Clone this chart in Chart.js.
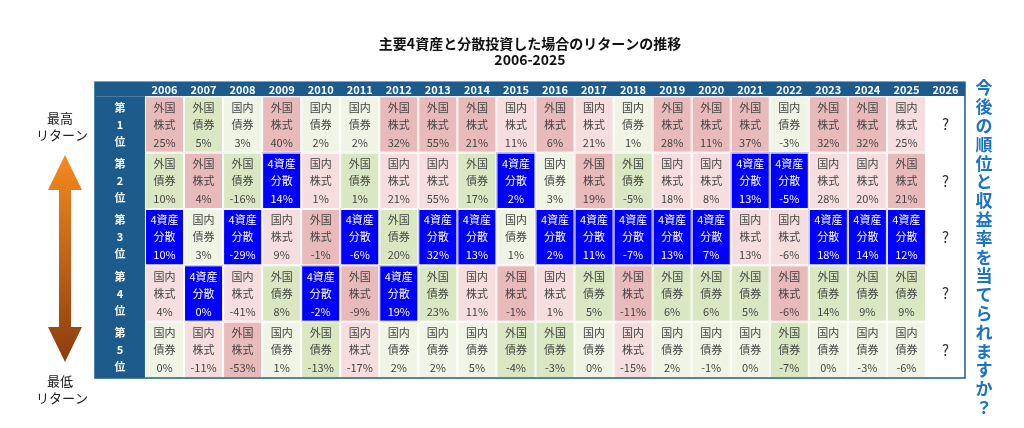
<!DOCTYPE html>
<html><head><meta charset="utf-8">
<script src="https://cdn.jsdelivr.net/npm/chart.js@4"></script>
<style>html,body{margin:0;background:#fff}#c{width:1024px;height:428px}</style>
</head><body><div id="c"><canvas id="chart"></canvas></div>
<script>
const years = ['2006','2007','2008','2009','2010','2011','2012','2013','2014','2015','2016','2017','2018','2019','2020','2021','2022','2023','2024','2025','2026'];
const ranks = ['1','2','3','4','5'];
// asset per rank, 2006-2025
const rank1Assets = ['外国株式','外国債券','国内債券','外国株式','国内債券','国内債券','外国株式','外国株式','外国株式','国内株式','外国株式','国内株式','国内債券','外国株式','外国株式','外国株式','国内債券','外国株式','外国株式','国内株式'];
const rank1Returns = [25,5,3,40,2,2,32,55,21,11,6,21,1,28,11,37,-3,32,32,25];
const rank2Assets = ['外国債券','外国株式','外国債券','4資産分散','国内株式','外国債券','国内株式','国内株式','外国債券','4資産分散','国内債券','外国株式','外国債券','国内株式','国内株式','4資産分散','4資産分散','国内株式','国内株式','外国株式'];
const rank2Returns = [10,4,-16,14,1,1,21,55,17,2,3,19,-5,18,8,13,-5,28,20,21];
const rank3Assets = ['4資産分散','国内債券','4資産分散','国内株式','外国株式','4資産分散','外国債券','4資産分散','4資産分散','国内債券','4資産分散','4資産分散','4資産分散','4資産分散','4資産分散','国内株式','国内株式','4資産分散','4資産分散','4資産分散'];
const rank3Returns = [10,3,-29,9,-1,-6,20,32,13,1,2,11,-7,13,7,13,-6,18,14,12];
const rank4Assets = ['国内株式','4資産分散','国内株式','外国債券','4資産分散','外国株式','4資産分散','外国債券','国内株式','外国株式','国内株式','外国債券','外国株式','外国債券','外国債券','外国債券','外国株式','外国債券','外国債券','外国債券'];
const rank4Returns = [4,0,-41,8,-2,-9,19,23,11,-1,1,5,-11,6,6,5,-6,14,9,9];
const rank5Assets = ['国内債券','国内株式','外国株式','国内債券','外国債券','国内株式','国内債券','国内債券','国内債券','外国債券','外国債券','国内債券','国内株式','国内債券','国内債券','国内債券','外国債券','国内債券','国内債券','国内債券'];
const rank5Returns = [0,-11,-53,1,-13,-17,2,2,5,-4,-3,0,-15,2,-1,0,-7,0,-3,-6];

const allAssets = [rank1Assets, rank2Assets, rank3Assets, rank4Assets, rank5Assets];
const allReturns = [rank1Returns, rank2Returns, rank3Returns, rank4Returns, rank5Returns];
const assetColors = {'外国株式':'#e9baba','国内株式':'#f6dede','外国債券':'#d9e7c3','国内債券':'#eff4e4','4資産分散':'#0000ff'};
const headBlue = '#1d5b8c';

const points = [];
allAssets.forEach((row, r) => row.forEach((a, i) => points.push({x: i, y: r + 1, asset: a, ret: allReturns[r][i]})));
ranks.forEach((rk, r) => points.push({x: 20, y: r + 1, asset: '?', ret: null}));

const tablePlugin = {
  id: 'table',
  afterDatasetsDraw(chart) {
    const c = chart.ctx, xs = chart.scales.x, ys = chart.scales.y;
    const X = v => xs.getPixelForValue(v), Y = v => ys.getPixelForValue(v);
    const font = '"Noto Sans CJK JP", sans-serif';
    c.save();
    c.textAlign = 'center'; c.textBaseline = 'middle';
    // header
    c.fillStyle = headBlue;
    c.fillRect(X(-1.78), Y(0.25), X(20.5) - X(-1.78), Y(0.5) - Y(0.25));
    c.fillRect(X(-1.78), Y(0.5), X(-0.5) - X(-1.78), Y(5.5) - Y(0.5));
    c.fillStyle = '#fff'; c.font = 'bold 11px ' + font;
    years.forEach((y, i) => c.fillText(y, X(i), (Y(0.25) + Y(0.5)) / 2 + 1));
    ranks.forEach((rk, r) => {
      const cy = Y(r + 1);
      c.fillText('第', X(-1.14), cy - 17);
      c.fillText(rk, X(-1.14), cy);
      c.fillText('位', X(-1.14), cy + 17);
    });
    // cells
    points.forEach(p => {
      const x0 = X(p.x - 0.5), x1 = X(p.x + 0.5), y0 = Y(p.y - 0.5), y1 = Y(p.y + 0.5);
      c.fillStyle = p.asset === '?' ? '#fff' : assetColors[p.asset];
      c.fillRect(x0, y0, x1 - x0, y1 - y0);
      c.strokeStyle = '#fff'; c.lineWidth = 1;
      c.strokeRect(x0 + 0.5, y0 + 0.5, x1 - x0 - 1, y1 - y0 - 1);
      const cx = (x0 + x1) / 2, cy = (y0 + y1) / 2;
      if (p.asset === '?') {
        c.fillStyle = '#333'; c.font = '15px ' + font;
        c.fillText('?', cx, cy);
        return;
      }
      const mixed = p.asset === '4資産分散';
      c.fillStyle = mixed ? '#fff' : '#444';
      c.font = '11px ' + font;
      c.fillText(mixed ? '4資産' : p.asset.slice(0, 2), cx, cy - 17);
      c.fillText(mixed ? '分散' : p.asset.slice(2), cx, cy);
      c.fillText(p.ret + '%', cx, cy + 18);
    });
    // outer border
    c.strokeStyle = headBlue; c.lineWidth = 1.5;
    c.strokeRect(X(-1.78), Y(0.25), X(20.5) - X(-1.78), Y(5.5) - Y(0.25));
    // left labels and arrow
    c.fillStyle = '#222'; c.font = '13px ' + font;
    c.fillText('最高', 60, 118); c.fillText('リターン', 62, 135);
    c.fillText('最低', 60, 381); c.fillText('リターン', 62, 398);
    const g = c.createLinearGradient(0, 155, 0, 362);
    g.addColorStop(0, '#f68a1e'); g.addColorStop(1, '#8a3d0e');
    c.fillStyle = g;
    c.beginPath();
    c.moveTo(65, 155); c.lineTo(82, 190); c.lineTo(71, 190); c.lineTo(71, 327);
    c.lineTo(82, 327); c.lineTo(65, 362); c.lineTo(48, 327); c.lineTo(59, 327);
    c.lineTo(59, 190); c.lineTo(48, 190); c.closePath(); c.fill();
    // right vertical text
    c.fillStyle = '#1a73c8'; c.font = 'bold 17px ' + font;
    const vt = '今後の順位と収益率を当てられますか？';
    [...vt].forEach((ch, i) => c.fillText(ch, 984, 88 + i * 18.8));
    c.restore();
  }
};

new Chart(document.getElementById('chart'), {
  type: 'scatter',
  data: {datasets: [{data: points, pointRadius: 0, pointHoverRadius: 0}]},
  plugins: [tablePlugin],
  options: {
    responsive: true, maintainAspectRatio: false, animation: false,
    layout: {padding: {left: 95, right: 59, top: 0, bottom: 50}},
    plugins: {
      legend: {display: false}, tooltip: {enabled: false},
      title: {display: true, text: ['主要4資産と分散投資した場合のリターンの推移', '2006-2025'],
        color: '#111', font: {family: '"Noto Sans CJK JP", sans-serif', size: 14, weight: 'bold', lineHeight: 1.15},
        padding: {top: 36, bottom: 14}}
    },
    scales: {
      x: {type: 'linear', min: -1.78, max: 20.5, display: false},
      y: {type: 'linear', min: 0.25, max: 5.5, reverse: true, display: false}
    }
  }
});
</script></body></html>
